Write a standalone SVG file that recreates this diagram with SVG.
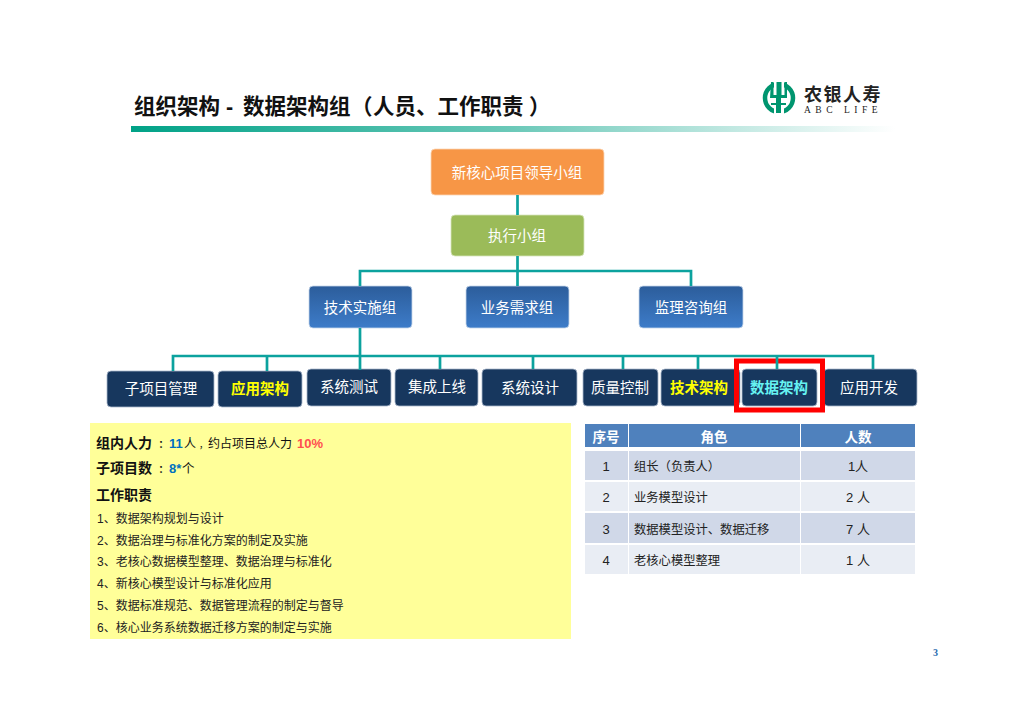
<svg xmlns="http://www.w3.org/2000/svg" width="1024" height="724" viewBox="0 0 1024 724">
<style>
text{font-family:"Liberation Sans","Noto Sans CJK SC",sans-serif}
.title{font-size:21.5px;font-weight:700;fill:#111}
.n{font-size:14.5px;fill:#fff;text-anchor:middle}
.nb{font-size:14.5px;font-weight:700;text-anchor:middle}
.dark{fill:#17375e;stroke:#a9b8cc;stroke-width:.8}
.blue{fill:url(#bg);stroke:#c5d5ea;stroke-width:.8}
.c{fill:none;stroke:#0ca29e;stroke-width:2.7}
.h{font-size:14px;font-weight:700;fill:#111}
.s{font-size:10px;font-weight:700;fill:#111}
.l{font-size:12px;fill:#222}
.th{font-size:13.5px;font-weight:700;fill:#fff;text-anchor:middle}
.td{font-size:12.3px;fill:#222}
.d{font-size:13px;fill:#222;text-anchor:middle}
</style>
<defs>
<linearGradient id="bar"><stop offset="0" stop-color="#00a287"/><stop offset=".5" stop-color="#6cc9b9"/><stop offset="1" stop-color="#fff"/></linearGradient>
<linearGradient id="bg" x1="0" y1="0" x2="0" y2="1"><stop offset="0" stop-color="#2c5d9b"/><stop offset="1" stop-color="#3d7cc9"/></linearGradient>
</defs>
<rect width="1024" height="724" fill="#fff"/>
<g id="title">
<text class="title" x="134" y="114">组织架构</text>
<text class="title" x="226" y="114">-</text>
<text class="title" x="243" y="114">数据架构组</text>
<text class="title" x="351" y="114">（</text>
<text class="title" x="373" y="114">人员、工作职责</text>
<text class="title" x="529" y="114">）</text>
<rect x="131" y="126" width="764" height="6" fill="url(#bar)"/>
</g>
<g id="logo">
<circle cx="779" cy="98" r="14" fill="none" stroke="#00956f" stroke-width="4.500"/>
<rect x="774" y="81" width="10" height="34" fill="#fff"/>
<path d="M771 82h2.500v13h3v-13h5v13h3v-13h2.500v16h-6v5h5v2h-5v8h-5v-8h-5v-2h5v-5h-6z" fill="#00956f"/>
<text x="804" y="101" font-size="18" font-weight="700" fill="#222" style="letter-spacing:1.500px;font-family:'Noto Sans CJK SC',serif">农银人寿</text>
<text x="804" y="113" font-size="9.500" fill="#222" style="letter-spacing:4.500px;font-family:'Liberation Serif',serif">ABC</text>
<text x="844" y="113" font-size="9.500" fill="#222" style="letter-spacing:4.500px;font-family:'Liberation Serif',serif">LIFE</text>
</g>
<g id="n-lead"><rect x="431" y="149" width="173" height="46" rx="4" fill="#f79646" stroke="#fbd5b5" stroke-width=".8"/><text class="n" x="517" y="178">新核心项目领导小组</text></g>
<g id="n-exec"><rect x="451" y="215" width="133" height="41" rx="4" fill="#9bbb59" stroke="#d7e4bd" stroke-width=".8"/><text class="n" x="517" y="241">执行小组</text></g>
<g id="n-tech"><rect class="blue" x="309" y="286" width="103" height="42" rx="4"/><text class="n" x="360" y="313">技术实施组</text></g>
<g id="n-biz"><rect class="blue" x="466" y="286" width="103" height="42" rx="4"/><text class="n" x="517" y="313">业务需求组</text></g>
<g id="n-audit"><rect class="blue" x="639" y="286" width="104" height="42" rx="4"/><text class="n" x="691" y="313">监理咨询组</text></g>
<g id="n-sub"><rect class="dark" x="107" y="371" width="107" height="36" rx="4"/><text class="n" x="161" y="394">子项目管理</text></g>
<g id="n-app"><rect class="dark" x="218" y="371" width="84" height="36" rx="4"/><text class="nb" x="260" y="394" fill="#ffff00">应用架构</text></g>
<g id="n-test"><rect class="dark" x="307" y="369" width="84" height="37" rx="4"/><text class="n" x="349" y="392">系统测试</text></g>
<g id="n-int"><rect class="dark" x="395" y="369" width="83" height="37" rx="4"/><text class="n" x="437" y="392">集成上线</text></g>
<g id="n-design"><rect class="dark" x="482" y="369" width="95" height="37" rx="4"/><text class="n" x="530" y="393">系统设计</text></g>
<g id="n-qa"><rect class="dark" x="583" y="369" width="75" height="37" rx="4"/><text class="n" x="620" y="393">质量控制</text></g>
<g id="n-devapp"><rect class="dark" x="824" y="369" width="93" height="37" rx="4"/><text class="n" x="869" y="393">应用开发</text></g>
<g id="n-techarch"><rect class="dark" x="661" y="369" width="79" height="37" rx="4"/><text class="nb" x="699" y="393" fill="#ffff00">技术架构</text></g>
<g id="n-dataarch"><rect class="dark" x="742" y="369" width="75" height="37" rx="4"/><text class="nb" x="779" y="393" fill="#66f2f2">数据架构</text>
<rect x="736.500" y="361" width="86" height="49" fill="none" stroke="#f00" stroke-width="5"/></g>
<g id="connectors">
<path class="c" d="M517.500 195V215M517.500 256V286M360 286V271H691V286M360 328V370M173 371V356H873V369M267 356V371M440 356V369M533 356V369M623 356V369M698 356V369M777 356V369"/>
</g>
<g id="panel">
<rect x="90" y="423" width="481" height="216" fill="#ffff99"/>
<text class="h" x="96" y="448">组内人力</text><text class="s" x="158.500" y="448">：</text>
<text x="169" y="448" font-size="13" font-weight="700" fill="#0070c0">11</text><text x="184" y="448" font-size="12" fill="#111">人</text><text x="199" y="448" font-size="9" fill="#111">，</text><text x="208" y="448" font-size="12" fill="#111">约占项目总人力</text>
<text x="297" y="448" font-size="13" font-weight="700" fill="#ff5050">10%</text>
<text class="h" x="96" y="473">子项目数</text><text class="s" x="158.500" y="473">：</text>
<text x="169" y="473" font-size="13" font-weight="700" fill="#0070c0">8*</text><text x="182" y="473" font-size="12.500" fill="#111">个</text>
<text class="h" x="96" y="500">工作职责</text>
<text class="l" x="97" y="523">1、数据架构规划与设计</text>
<text class="l" x="97" y="545">2、数据治理与标准化方案的制定及实施</text>
<text class="l" x="97" y="566">3、老核心数据模型整理、数据治理与标准化</text>
<text class="l" x="97" y="588">4、新核心模型设计与标准化应用</text>
<text class="l" x="97" y="610">5、数据标准规范、数据管理流程的制定与督导</text>
<text class="l" x="97" y="632">6、核心业务系统数据迁移方案的制定与实施</text>
</g>
<g id="table">
<g fill="#4f81bd"><rect x="585" y="424" width="43" height="23"/><rect x="629" y="424" width="171" height="23"/><rect x="801" y="424" width="114" height="23"/></g>
<g fill="#d0d8e8"><rect x="585" y="451" width="43" height="29"/><rect x="629" y="451" width="171" height="29"/><rect x="801" y="451" width="114" height="29"/><rect x="585" y="513" width="43" height="30"/><rect x="629" y="513" width="171" height="30"/><rect x="801" y="513" width="114" height="30"/></g>
<g fill="#e9edf4"><rect x="585" y="482" width="43" height="29"/><rect x="629" y="482" width="171" height="29"/><rect x="801" y="482" width="114" height="29"/><rect x="585" y="545" width="43" height="29"/><rect x="629" y="545" width="171" height="29"/><rect x="801" y="545" width="114" height="29"/></g>
<text class="th" x="606" y="442">序号</text><text class="th" x="714" y="442">角色</text><text class="th" x="858" y="442">人数</text>
<text class="d" x="606" y="471">1</text><text class="td" x="634" y="471">组长（负责人）</text><text class="d" x="858" y="471">1人</text>
<text class="d" x="606" y="502">2</text><text class="td" x="634" y="502">业务模型设计</text><text class="d" x="858" y="502">2 人</text>
<text class="d" x="606" y="534">3</text><text class="td" x="634" y="534">数据模型设计、数据迁移</text><text class="d" x="858" y="534">7 人</text>
<text class="d" x="606" y="565">4</text><text class="td" x="634" y="565">老核心模型整理</text><text class="d" x="858" y="565">1 人</text>
</g>
<text x="933" y="656" font-size="10" font-weight="700" fill="#2b6cb0" style="font-family:'Liberation Serif',serif">3</text>
</svg>
